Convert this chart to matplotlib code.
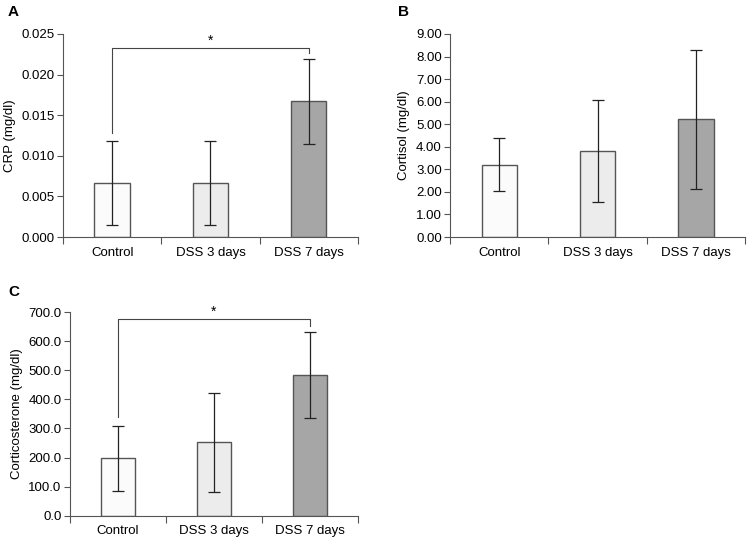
import numpy as np
import matplotlib.pyplot as plt
from matplotlib.ticker import FixedLocator, FuncFormatter

plt.rcParams['font.family'] = ['Liberation Sans', 'DejaVu Sans']

groups = ['Control', 'DSS 3 days', 'DSS 7 days']
bar_colors = ['#fbfbfb', '#ececec', '#a6a6a6']

crp_mean = [0.00667, 0.00667, 0.0167]
crp_sd = [0.00520, 0.00520, 0.00520]

cortisol_mean = [3.20, 3.82, 5.21]
cortisol_sd = [1.17, 2.25, 3.09]

cort_mean = [198.0, 252.0, 484.0]
cort_sd = [112.0, 171.0, 148.0]


def panel(ax, mean, sd, ymax, step, fmt, ylabel):
    x = np.arange(len(groups))
    ax.bar(x, mean, width=0.36, color=bar_colors, edgecolor='#555555', linewidth=1.0, zorder=2)
    ax.errorbar(x, mean, yerr=sd, fmt='none', ecolor='#222222', elinewidth=0.9,
                capsize=4, capthick=0.9, zorder=3)
    ax.set_xlim(-0.5, 2.5)
    ax.set_ylim(0, ymax)
    ax.set_yticks(np.arange(0, ymax + step / 2, step))
    ax.yaxis.set_major_formatter(FuncFormatter(lambda v, p: fmt.format(v)))
    ax.set_xticks(x)
    ax.set_xticklabels(groups, fontsize=9.5)
    ax.tick_params(axis='x', length=0, pad=7)
    ax.xaxis.set_minor_locator(FixedLocator([-0.5, 0.5, 1.5, 2.5]))
    ax.tick_params(axis='x', which='minor', length=5, color='#555555', width=0.8)
    ax.tick_params(axis='y', labelsize=9.5, length=4, color='#555555', width=0.8, pad=2)
    for s in ['top', 'right']:
        ax.spines[s].set_visible(False)
    for s in ['left', 'bottom']:
        ax.spines[s].set_color('#555555')
        ax.spines[s].set_linewidth(0.8)
    ax.set_ylabel(ylabel, fontsize=9.5, labelpad=4)


def bracket(ax, y, y_left, y_right):
    ax.plot([0, 0, 2, 2], [y_left, y, y, y_right], color='#444444', lw=0.8, zorder=4)
    ax.text(1, y, '*', ha='center', va='bottom', fontsize=10)


fig = plt.figure(figsize=(7.54, 5.43), dpi=100)

axA = fig.add_axes([0.0836, 0.5635, 0.391, 0.374])
panel(axA, crp_mean, crp_sd, 0.025, 0.005, '{:.3f}', 'CRP (mg/dl)')
bracket(axA, 0.0233, 0.0128, 0.0227)

axB = fig.add_axes([0.597, 0.5635, 0.391, 0.374])
panel(axB, cortisol_mean, cortisol_sd, 9.0, 1.0, '{:.2f}', 'Cortisol (mg/dl)')

axC = fig.add_axes([0.0928, 0.0503, 0.382, 0.375])
panel(axC, cort_mean, cort_sd, 700.0, 100.0, '{:.1f}', 'Corticosterone (mg/dl)')
bracket(axC, 677, 340, 652)

fig.text(8 / 754, 1 - 12 / 543, 'A', fontsize=11, fontweight='bold', va='center')
fig.text(398 / 754, 1 - 12 / 543, 'B', fontsize=11, fontweight='bold', va='center')
fig.text(8 / 754, 1 - 292 / 543, 'C', fontsize=11, fontweight='bold', va='center')

fig.savefig('out.png', dpi=100, facecolor='white')
